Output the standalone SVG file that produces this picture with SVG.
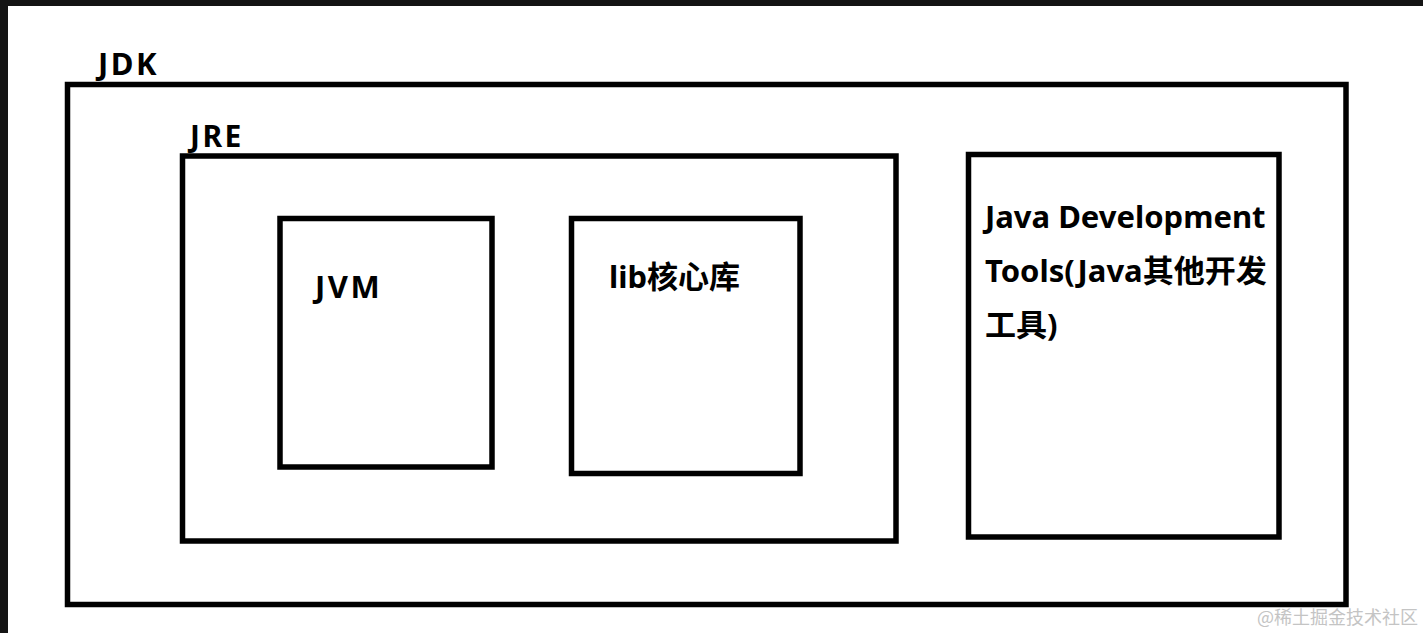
<svg xmlns="http://www.w3.org/2000/svg" width="1423" height="633" viewBox="0 0 1423 633">
<style>
.box{fill:none;stroke:#000;stroke-width:5.5}
.t{font-family:"Noto Sans","Noto Sans CJK SC",sans-serif;font-weight:bold;fill:#000}
.wm{font-family:"Noto Sans CJK SC",sans-serif;fill:#c4c4c4;font-size:18px}
</style>
<rect x="0" y="0" width="1423" height="633" fill="#fff"/>
<rect x="0" y="0" width="1423" height="6" fill="#141414"/>
<rect x="0" y="0" width="8" height="633" fill="#141414"/>
<g id="jdk">
<rect class="box" x="67.5" y="84.5" width="1278.5" height="520"/>
<text class="t" x="98" y="75" font-size="31" letter-spacing="2.5">JDK</text>
</g>
<g id="jre">
<rect class="box" x="182.5" y="156" width="713.5" height="385"/>
<text class="t" x="190" y="147" font-size="30" letter-spacing="2.5">JRE</text>
</g>
<g id="jvm">
<rect class="box" x="280" y="218.5" width="212" height="248.5"/>
<text class="t" x="315" y="298" font-size="31" letter-spacing="2.5">JVM</text>
</g>
<g id="lib">
<rect class="box" x="571.5" y="218.5" width="228.5" height="255"/>
<text class="t" x="609" y="288" font-size="31">lib核心库</text>
</g>
<g id="tools">
<rect class="box" x="968.5" y="154.5" width="310.5" height="382.5"/>
<text class="t" font-size="31"><tspan x="985" y="228">Java Development</tspan><tspan x="985" y="282">Tools(Java其他开发</tspan><tspan x="985" y="336">工具)</tspan></text>
</g>
<g id="connectors"/>
<text class="wm" x="1257" y="624">@稀土掘金技术社区</text>
</svg>
